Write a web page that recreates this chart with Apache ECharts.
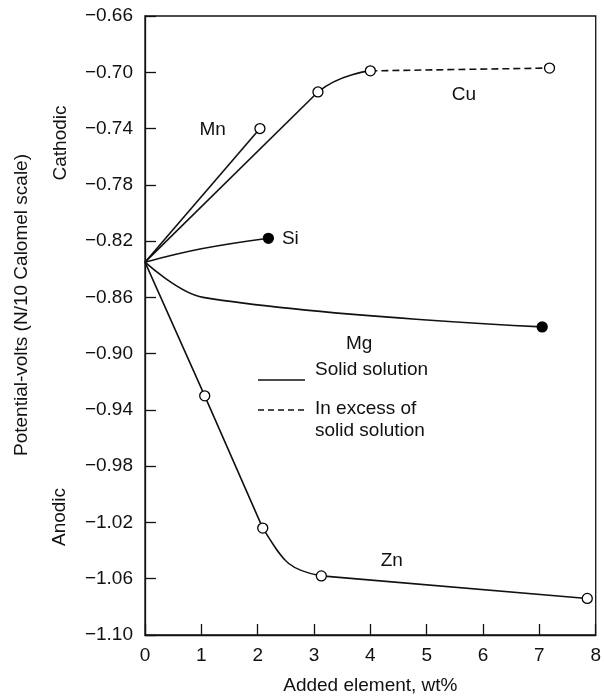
<!DOCTYPE html>
<html><head><meta charset="utf-8">
<script src="https://cdn.jsdelivr.net/npm/echarts@6/dist/echarts.min.js"></script>
<style>html,body{margin:0;padding:0;background:#fff}#c{width:604px;height:700px}</style>
</head><body><div id="c"></div>
<script>
const FONT_FAMILY = '"Liberation Sans", Arial, Helvetica, sans-serif';
const FS = 19;
const INK = '#111';

// axes
const xMin = 0, xMax = 8, xStep = 1;
const yMin = -1.10, yMax = -0.66, yStep = 0.04;

// series data (added element wt%, potential volts); marks: none / open / filled
const cuX = [0, 3.07, 4.0];            // solid solution part
const cuY = [-0.835, -0.714, -0.699];
const cuMark = ['none', 'open', 'open'];
const cuExcessX = [4.0, 7.18];         // in excess of solid solution (dashed)
const cuExcessY = [-0.699, -0.697];
const cuExcessMark = ['none', 'open'];

const mnX = [0, 2.04];
const mnY = [-0.835, -0.740];
const mnMark = ['none', 'open'];

const siX = [0, 1.0, 2.19];
const siY = [-0.835, -0.8255, -0.818];
const siMark = ['none', 'none', 'filled'];

const mgX = [0, 1.03, 7.05];
const mgY = [-0.835, -0.860, -0.881];
const mgMark = ['none', 'none', 'filled'];

const znX = [0, 1.06, 2.09, 3.13, 7.85];
const znY = [-0.835, -0.930, -1.024, -1.058, -1.074];
const znMark = ['none', 'open', 'open', 'open', 'open'];

// curve annotations (data coordinates)
const noteText = ['Mn', 'Cu', 'Si', 'Mg', 'Zn'];
const noteX = [1.20, 5.66, 2.58, 3.80, 4.38];
const noteY = [-0.741, -0.716, -0.8185, -0.893, -1.047];

const pts = (xs, ys) => xs.map((x, i) => [x, ys[i]]);
function lineSeries(data, opts) {
  return Object.assign({
    type: 'line', symbol: 'none', z: 3, animation: false,
    lineStyle: { color: INK, width: 1.6, type: 'solid' }, data: data
  }, opts || {});
}
function markData(kind) {
  const out = [];
  [[cuX, cuY, cuMark], [cuExcessX, cuExcessY, cuExcessMark], [mnX, mnY, mnMark],
   [siX, siY, siMark], [mgX, mgY, mgMark], [znX, znY, znMark]].forEach(([xs, ys, ms]) => {
    xs.forEach((x, i) => { if (ms[i] === kind) out.push([x, ys[i]]); });
  });
  return out;
}

const series = [
  // 0: Cu curved part (stroke only visible beyond its second point)
  lineSeries(pts(cuX, cuY), { smooth: 0.5 }),
  // 1: Cu straight rise
  lineSeries(pts(cuX.slice(0, 2), cuY.slice(0, 2))),
  // 2: Cu excess dashed
  lineSeries(pts(cuExcessX, cuExcessY), { lineStyle: { color: INK, width: 1.6, type: [7, 4] }, z: 2 }),
  // 3: Mn
  lineSeries(pts(mnX, mnY)),
  // 4: Si
  lineSeries(pts(siX, siY), { smooth: 0.4 }),
  // 5: Mg
  lineSeries(pts(mgX, mgY), { smooth: 0.35 }),
  // 6: Zn curved knee (stroke only visible between its third and fourth points)
  lineSeries(pts(znX, znY), { smooth: 0.5 }),
  // 7: Zn straight descent
  lineSeries(pts(znX.slice(0, 3), znY.slice(0, 3))),
  // 8: Zn straight tail
  lineSeries(pts(znX.slice(3), znY.slice(3))),
  // 9, 10: markers
  { type: 'scatter', symbol: 'circle', symbolSize: 10, z: 5, animation: false,
    itemStyle: { color: '#fff', borderColor: '#000', borderWidth: 1.3, opacity: 1 }, data: markData('open') },
  { type: 'scatter', symbol: 'circle', symbolSize: 10, z: 5, animation: false,
    itemStyle: { color: '#000', borderColor: '#000', borderWidth: 1.3, opacity: 1 }, data: markData('filled') }
];

const chart = echarts.init(document.getElementById('c'), null, { renderer: 'canvas' });
chart.setOption({
  animation: false,
  backgroundColor: '#fff',
  textStyle: { fontFamily: FONT_FAMILY },
  grid: { left: 145, right: 5, top: 16, bottom: 62, show: true, borderColor: INK, borderWidth: 1.3, backgroundColor: 'transparent' },
  xAxis: {
    type: 'value', min: xMin, max: xMax, interval: xStep,
    axisLine: { show: true, lineStyle: { color: INK, width: 1.3 } },
    axisTick: { show: true, inside: true, length: 11, lineStyle: { color: INK, width: 1.3 } },
    axisLabel: { color: INK, fontSize: FS, fontFamily: FONT_FAMILY, margin: 11 },
    splitLine: { show: false },
    name: 'Added element, wt%', nameLocation: 'middle', nameGap: 41,
    nameTextStyle: { color: INK, fontSize: FS, fontFamily: FONT_FAMILY }
  },
  yAxis: {
    type: 'value', min: yMin, max: yMax, interval: yStep,
    axisLine: { show: true, lineStyle: { color: INK, width: 1.3 } },
    axisTick: { show: true, inside: true, length: 11, lineStyle: { color: INK, width: 1.3 } },
    axisLabel: { color: INK, fontSize: FS, fontFamily: FONT_FAMILY, margin: 12,
      formatter: v => v.toFixed(2).replace('-', '\u2212') },
    splitLine: { show: false }
  },
  series: series
});

// horizontal hard-stop gradients so the smooth curves show only their curved stretch
const px = x => chart.convertToPixel({ gridIndex: 0 }, [x, yMin])[0];
const CLEAR = 'rgba(0,0,0,0)';
function cutGradient(showFrom, showTo) {
  const a = px(xMin), b = px(xMax);
  const f0 = (px(showFrom) - a) / (b - a), f1 = (px(showTo) - a) / (b - a);
  return { type: 'linear', x: a, y: 0, x2: b, y2: 0, global: true, colorStops: [
    { offset: 0, color: CLEAR }, { offset: f0, color: CLEAR }, { offset: f0, color: INK },
    { offset: f1, color: INK }, { offset: f1, color: CLEAR }, { offset: 1, color: CLEAR }] };
}
const seriesUpdate = series.map(() => ({}));
seriesUpdate[0] = { lineStyle: { color: cutGradient(cuX[1], xMax) } };
seriesUpdate[6] = { lineStyle: { color: cutGradient(znX[2], znX[3]) } };

const F = FS + 'px ' + FONT_FAMILY;
const graphics = [];
noteText.forEach((t, i) => {
  const p = chart.convertToPixel({ gridIndex: 0 }, [noteX[i], noteY[i]]);
  graphics.push({ type: 'text', x: p[0], y: p[1], z: 10,
    style: { text: t, font: F, fill: INK, textAlign: 'center', textVerticalAlign: 'middle' } });
});
graphics.push({ type: 'text', x: 22, y: 305, rotation: Math.PI / 2,
  style: { text: 'Potential-volts (N/10 Calomel scale)', font: F, fill: INK, textAlign: 'center', textVerticalAlign: 'middle' } });
graphics.push({ type: 'text', x: 61, y: 143, rotation: Math.PI / 2,
  style: { text: 'Cathodic', font: F, fill: INK, textAlign: 'center', textVerticalAlign: 'middle' } });
graphics.push({ type: 'text', x: 60, y: 517, rotation: Math.PI / 2,
  style: { text: 'Anodic', font: F, fill: INK, textAlign: 'center', textVerticalAlign: 'middle' } });
graphics.push({ type: 'line', shape: { x1: 258, y1: 380, x2: 305, y2: 380 }, style: { stroke: INK, lineWidth: 1.3 } });
graphics.push({ type: 'line', shape: { x1: 258, y1: 410, x2: 305, y2: 410 }, style: { stroke: INK, lineWidth: 1.3, lineDash: [6, 4] } });
graphics.push({ type: 'text', x: 315, y: 370, style: { text: 'Solid solution', font: F, fill: INK, textAlign: 'left', textVerticalAlign: 'middle' } });
graphics.push({ type: 'text', x: 315, y: 409, style: { text: 'In excess of', font: F, fill: INK, textAlign: 'left', textVerticalAlign: 'middle' } });
graphics.push({ type: 'text', x: 315, y: 431, style: { text: 'solid solution', font: F, fill: INK, textAlign: 'left', textVerticalAlign: 'middle' } });

chart.setOption({ series: seriesUpdate, graphic: graphics });
</script>
</body></html>
